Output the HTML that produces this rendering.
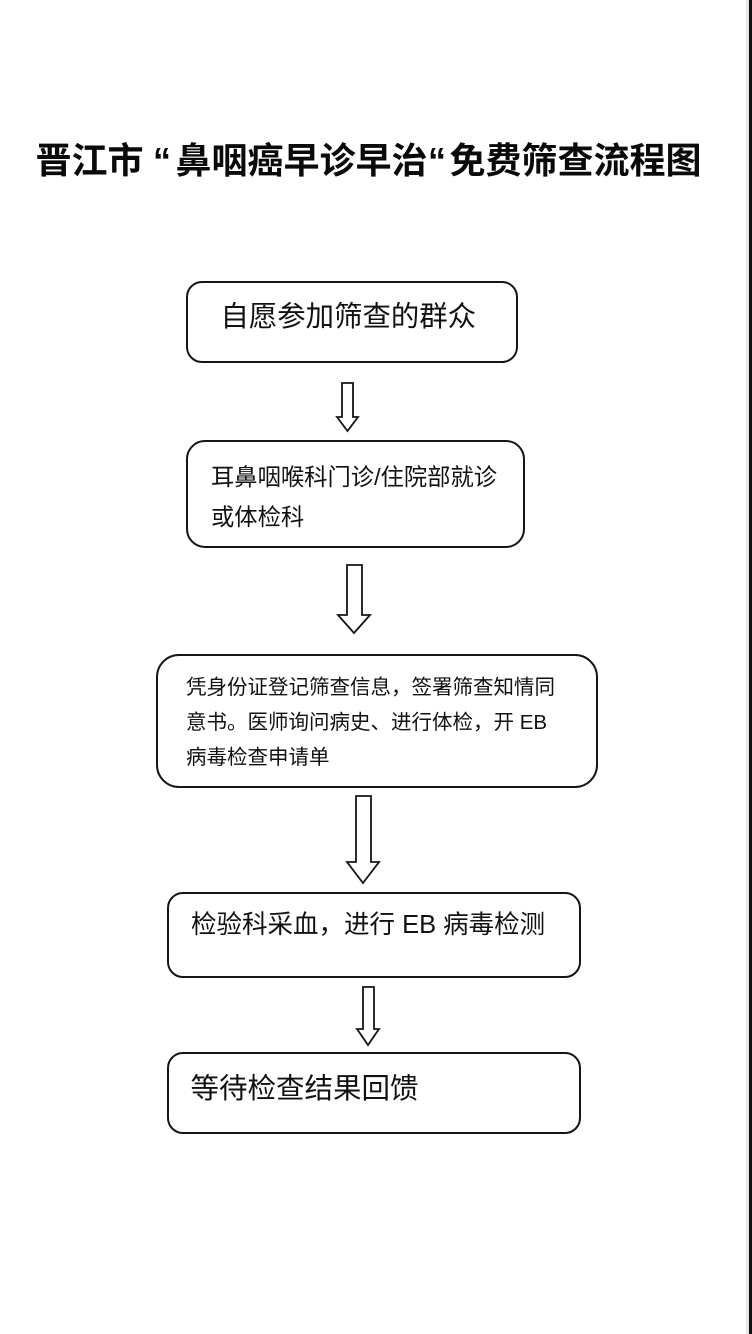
<!DOCTYPE html>
<html>
<head>
<meta charset="utf-8">
<style>
  html,body{margin:0;padding:0;background:#fff;}
  body{width:752px;height:1334px;position:relative;overflow:hidden;}
  svg{position:absolute;left:0;top:0;}
  .t{position:absolute;white-space:nowrap;color:#111;
     font-family:"Liberation Sans","Noto Sans CJK SC",sans-serif;}
  .ti{font-size:36px;line-height:50px;font-weight:700;top:136px;color:#0a0a0a;}
</style>
</head>
<body>
<svg width="752" height="1334" viewBox="0 0 752 1334">
  <rect x="746" y="0" width="3" height="1334" fill="#e6e6e6"/>
  <rect x="749" y="0" width="3" height="1334" fill="#111"/>
  <g fill="#fff" stroke="#151515" stroke-width="2">
    <rect x="187" y="282" width="330" height="80" rx="15" ry="15"/>
    <rect x="187" y="441" width="337" height="106" rx="18" ry="18"/>
    <rect x="157" y="655" width="440" height="132" rx="22" ry="22"/>
    <rect x="168" y="893" width="412" height="84" rx="15" ry="15"/>
    <rect x="168" y="1053" width="412" height="80" rx="15" ry="15"/>
  </g>
  <g fill="#fff" stroke="#151515" stroke-width="1.8" stroke-linejoin="miter">
    <polygon points="342,383 353,383 353,417 358,417 347.5,431 337,417 342,417"/>
    <polygon points="347,565 362,565 362,615 370,615 354,633 338,615 347,615"/>
    <polygon points="356,796 371,796 371,862 379,862 363,883 347,862 356,862"/>
    <polygon points="363,987 374,987 374,1029 379,1029 368,1045 357,1029 363,1029"/>
  </g>
</svg>

<div class="t ti" style="left:35.5px;">晋江市</div>
<div class="t ti" style="left:153px;">“</div>
<div class="t ti" style="left:175.5px;">鼻咽癌早诊早治</div>
<div class="t ti" style="left:428px;">“</div>
<div class="t ti" style="left:449.5px;">免费筛查流程图</div>

<div class="t" style="left:220.5px;top:297px;font-size:28.4px;line-height:40px;">自愿参加筛查的群众</div>

<div class="t" style="left:211px;top:456.8px;font-size:23.3px;line-height:40px;">耳鼻咽喉科门诊/住院部就诊<br>或体检科</div>

<div class="t" style="left:186px;top:670.1px;font-size:20.5px;line-height:35px;">凭身份证登记筛查信息，签署筛查知情同<br>意书。医师询问病史、进行体检，开 EB<br>病毒检查申请单</div>

<div class="t" style="left:191px;top:907.4px;font-size:25.5px;line-height:36px;">检验科采血，进行 EB 病毒检测</div>

<div class="t" style="left:190.5px;top:1068.5px;font-size:28.5px;line-height:40px;">等待检查结果回馈</div>
</body>
</html>
